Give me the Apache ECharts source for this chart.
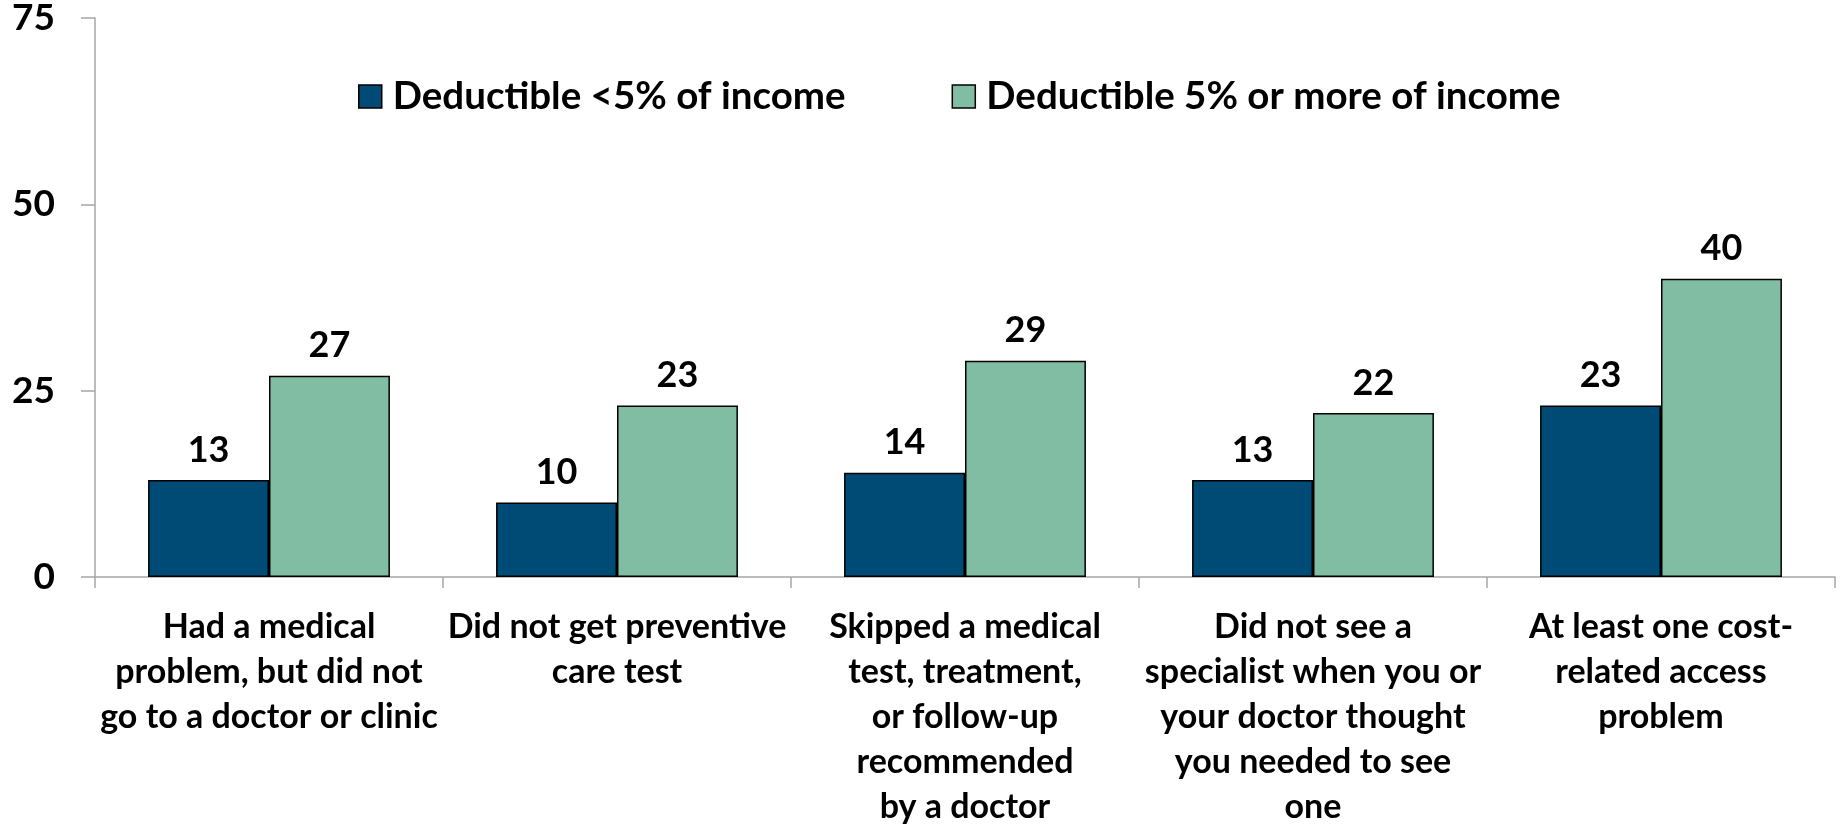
<!DOCTYPE html>
<html>
<head>
<meta charset="utf-8">
<script src="https://cdn.jsdelivr.net/npm/echarts@6/dist/echarts.min.js"></script>
<style>
  html, body { margin: 0; padding: 0; background: #fff; }
  #chart { width: 1845px; height: 829px; }
</style>
</head>
<body>
<div id="chart"></div>
<script>
// categories (x axis)
const categories = [
    'Had a medical\nproblem, but did not\ngo to a doctor or clinic',
    'Did not get preventive\ncare test',
    'Skipped a medical\ntest, treatment,\nor follow-up\nrecommended\nby a doctor',
    'Did not see a\nspecialist when you or\nyour doctor thought\nyou needed to see\none',
    'At least one cost-\nrelated access\nproblem'
];

const seriesNames = ['Deductible <5% of income', 'Deductible 5% or more of income'];
const lowDeductible = [13, 10, 14, 13, 23];
const highDeductible = [27, 23, 29, 22, 40];

const FONT = 'Lato';
const axisGray = '#a6a6a6';

const drawChart = (nodeId) => {
    const myEcharts = echarts.init(document.getElementById(nodeId));

    const barLabel = {
        show: true,
        position: 'top',
        distance: 12,
        fontFamily: FONT,
        fontWeight: 'bold',
        fontSize: 36,
        color: '#000'
    };

    const options = {
        animation: false,
        textStyle: { fontFamily: FONT },
        legend: {
            top: 72,
            left: 353,
            itemWidth: 23,
            itemHeight: 23,
            itemGap: 106,
            icon: 'rect',
            itemStyle: { borderColor: '#000', borderWidth: 1.5 },
            textStyle: {
                fontFamily: FONT,
                fontWeight: 'bold',
                fontSize: 38.5,
                color: '#000',
                padding: [0, 0, 0, 6]
            },
            data: seriesNames
        },
        grid: {
            left: 95,
            right: 10,
            top: 18,
            bottom: 252,
            containLabel: false,
            outerBoundsMode: 'none'
        },
        xAxis: {
            type: 'category',
            data: categories,
            axisLine: { lineStyle: { color: axisGray, width: 1.5 } },
            axisTick: { show: true, length: 11, alignWithLabel: false, lineStyle: { color: axisGray, width: 1.5 } },
            axisLabel: {
                interval: 0,
                margin: 28,
                fontFamily: FONT,
                fontWeight: 'bold',
                fontSize: 34,
                lineHeight: 45,
                color: '#000',
                align: 'center'
            }
        },
        yAxis: {
            type: 'value',
            min: 0,
            max: 75,
            interval: 25,
            splitLine: { show: false },
            axisLine: { show: true, lineStyle: { color: axisGray, width: 1.5 } },
            axisTick: { show: true, inside: false, length: 14, lineStyle: { color: axisGray, width: 1.5 } },
            axisLabel: {
                margin: 40,
                fontFamily: FONT,
                fontWeight: 'bold',
                fontSize: 37,
                color: '#000'
            }
        },
        series: [
            {
                name: seriesNames[0],
                type: 'bar',
                data: lowDeductible,
                barGap: '0%',
                barCategoryGap: '30.5%',
                itemStyle: { color: '#004a76', borderColor: '#000', borderWidth: 1.5 },
                label: barLabel
            },
            {
                name: seriesNames[1],
                type: 'bar',
                data: highDeductible,
                barGap: '0%',
                barCategoryGap: '30.5%',
                itemStyle: { color: '#81bda3', borderColor: '#000', borderWidth: 1.5 },
                label: barLabel
            }
        ]
    };

    myEcharts.setOption(options);
};

drawChart('chart');
</script>
</body>
</html>
